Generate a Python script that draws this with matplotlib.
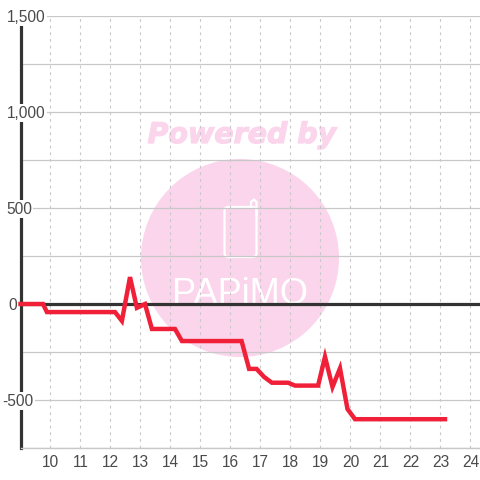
import matplotlib
matplotlib.use("Agg")
import matplotlib.pyplot as plt
import matplotlib.patheffects as pe
from matplotlib.lines import Line2D
from matplotlib.patches import Circle, FancyBboxPatch

# hours on x, balance on y
hours = [9.0, 9.75, 9.88, 12.15, 12.38, 12.65, 12.88, 13.15, 13.38, 14.15, 14.38,
         16.37, 16.62, 16.87, 17.12, 17.38, 17.92, 18.15, 18.92, 19.15, 19.4,
         19.65, 19.9, 20.15, 23.15]
balance = [0, 0, -42, -42, -88, 140, -20, 0, -130, -130, -193,
           -193, -338, -338, -380, -410, -410, -425, -425, -275, -432,
           -335, -547, -600, -600]

x_ticks = list(range(10, 25))
y_ticks = [-500, 0, 500, 1000, 1500]
y_minor = [-750, -250, 250, 750, 1250]
y_labels = ["-500", "0", "500", "1,000", "1,500"]
label_left = [2, 8, 6, 7, 7]  # px where each y label starts

grid_col = "#c8c8c8"
dark = "#333333"
pink = "#fbd5ec"
red = "#f02039"
text_col = "#4a4a4a"

plt.rcParams["font.family"] = ["Liberation Sans", "DejaVu Sans"]

fig = plt.figure(figsize=(4.8, 4.8), dpi=100)
ax = fig.add_axes([20.5 / 480, 32 / 480, 459.5 / 480, 432 / 480])
ax.set_xlim(9, 24.317)
ax.set_ylim(-750, 1500)
ax.patch.set_alpha(0)


def px(x, y):
    return (x, 480 - y)


# watermark, in figure pixels, behind the grid
fig.add_artist(Circle(px(240, 258), 99, transform=None, fc=pink, ec="none", zorder=-5))
fig.text(242 / 480, 1 - 135 / 480, "Powered by", color=pink, fontsize=20.5, ha="center", va="center",
         family="DejaVu Sans", weight="bold", style="italic", zorder=-4,
         path_effects=[pe.withStroke(linewidth=0.9, foreground=pink)])
fig.add_artist(FancyBboxPatch(px(224.5, 257), 32, 50, boxstyle="round,pad=0,rounding_size=4",
                              transform=None, fc="none", ec="white", lw=1.6, zorder=-3))
ear = [px(251, 207), px(251, 202), px(254, 199.5), px(256.5, 202), px(256.5, 215)]
fig.add_artist(Line2D([p[0] for p in ear], [p[1] for p in ear], transform=None, color="white", lw=1.6, zorder=-3))
fig.text(240 / 480, 1 - 304 / 480, "PAPiMO", color="white", fontsize=26, ha="center", va="baseline",
         zorder=-3)

ax.set_xticks(x_ticks)
ax.set_yticks(y_ticks)
ax.set_yticks(y_minor, minor=True)
ax.set_yticklabels([])
ax.tick_params(axis="both", which="both", length=0)
ax.tick_params(axis="x", labelsize=11.2, labelcolor=text_col, pad=5)
ax.grid(axis="x", color=grid_col, lw=0.8, ls=(0, (2.5, 3.5)))
ax.grid(axis="y", which="both", color=grid_col, lw=0.9)
ax.set_axisbelow(True)

for s in ["top", "right"]:
    ax.spines[s].set_visible(False)
ax.spines["bottom"].set_color(grid_col)
ax.spines["bottom"].set_linewidth(1)
ax.spines["left"].set_color(dark)
ax.spines["left"].set_linewidth(2.3)

ax.axhline(0, color=dark, lw=2.3, zorder=2)
ax.plot(hours, balance, color=red, lw=3.2, solid_joinstyle="miter", solid_capstyle="projecting",
        zorder=3, clip_on=False)

# y labels sit on a white box that cuts the axis and the grid
for v, lab, left in zip(y_ticks, y_labels, label_left):
    ax.annotate(lab, xy=(0, v), xycoords=("axes fraction", "data"), xytext=((left - 20.5) * 0.72, -1),
                textcoords="offset points", ha="left", va="center", fontsize=11.2, color=text_col,
                annotation_clip=False, zorder=4,
                bbox=dict(fc="white", ec="none", pad=1))

fig.savefig("out.png", dpi=100)
